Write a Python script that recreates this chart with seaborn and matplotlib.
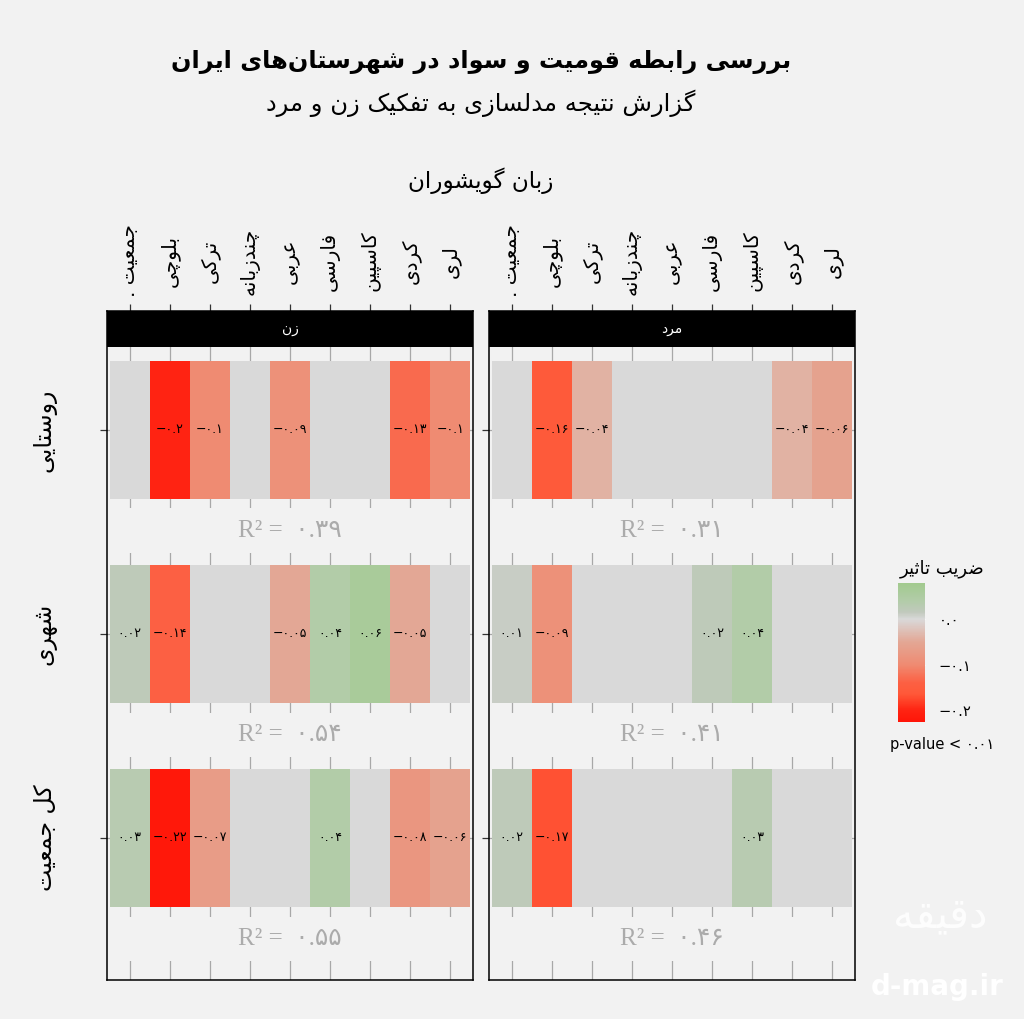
import numpy as np
import pandas as pd
import matplotlib
matplotlib.use('Agg')
import matplotlib.pyplot as plt
import seaborn as sns
from matplotlib.colors import LinearSegmentedColormap, Normalize
from matplotlib.cm import ScalarMappable

# داده‌ها (خوانده شده از تصویر) - None یعنی ضریب غیرمعنادار
languages = ['جمعیت .', 'بلوچی', 'ترکی', 'چندزبانه', 'عربی', 'فارسی', 'کاسپین', 'کردی', 'لری']
areas = ['روستایی', 'شهری', 'کل جمعیت']
genders = ['زن', 'مرد']

women_rural = [None, -0.2, -0.1, None, -0.09, None, None, -0.13, -0.1]
women_urban = [0.02, -0.14, None, None, -0.05, 0.04, 0.06, -0.05, None]
women_total = [0.03, -0.22, -0.07, None, None, 0.04, None, -0.08, -0.06]
men_rural = [None, -0.16, -0.04, None, None, None, None, -0.04, -0.06]
men_urban = [0.01, -0.09, None, None, None, 0.02, 0.04, None, None]
men_total = [0.02, -0.17, None, None, None, None, 0.03, None, None]

r2_women = [0.39, 0.54, 0.55]
r2_men = [0.31, 0.41, 0.46]

legend_ticks = [0.0, -0.1, -0.2]
coef_limits = (-0.226, 0.079)

# --- شکل‌دهی حروف فارسی (matplotlib خودش حروف را به هم وصل نمی‌کند)
JOIN4 = {'ب': 0xFE8F, 'ت': 0xFE95, 'ث': 0xFE99, 'ج': 0xFE9D, 'ح': 0xFEA1, 'خ': 0xFEA5,
         'س': 0xFEB1, 'ش': 0xFEB5, 'ص': 0xFEB9, 'ض': 0xFEBD, 'ط': 0xFEC1, 'ظ': 0xFEC5,
         'ع': 0xFEC9, 'غ': 0xFECD, 'ف': 0xFED1, 'ق': 0xFED5, 'ل': 0xFEDD, 'م': 0xFEE1,
         'ن': 0xFEE5, 'ه': 0xFEE9, 'ئ': 0xFE89, 'پ': 0xFB56, 'چ': 0xFB7A, 'ک': 0xFB8E,
         'گ': 0xFB92, 'ی': 0xFBFC}
JOIN2 = {'ا': 0xFE8D, 'آ': 0xFE81, 'د': 0xFEA9, 'ذ': 0xFEAB, 'ر': 0xFEAD, 'ز': 0xFEAF,
         'ژ': 0xFB8A, 'و': 0xFEED}


def fa(s):
    out = []
    for i, ch in enumerate(s):
        prev = s[i - 1] if i > 0 else ''
        nxt = s[i + 1] if i + 1 < len(s) else ''
        if ch in JOIN4 or ch in JOIN2:
            base = JOIN4.get(ch, JOIN2.get(ch))
            p = prev in JOIN4
            n = ch in JOIN4 and (nxt in JOIN4 or nxt in JOIN2)
            out.append(chr(base + (2 if n else 0) + (1 if p else 0)))
        elif ch == '\u200c':
            continue
        else:
            out.append(ch)
    return ''.join(reversed(out))


def fa_num(v, fmt='{:g}'):
    return fmt.format(v).translate(str.maketrans('0123456789-', '۰۱۲۳۴۵۶۷۸۹−'))


df = pd.DataFrame({
    'gender': np.repeat(genders, len(areas) * len(languages)),
    'area': np.tile(np.repeat(areas, len(languages)), len(genders)),
    'language': np.tile(languages, len(areas) * len(genders)),
    'coef': women_rural + women_urban + women_total + men_rural + men_urban + men_total,
})

bg = '#F2F2F2'
grey_tile = '#D9D9D9'
sns.set_theme(style='white', rc={'figure.facecolor': bg, 'axes.facecolor': bg,
                                 'text.color': 'black', 'xtick.color': 'black',
                                 'ytick.color': 'black'})
plt.rcParams['font.family'] = ['DejaVu Sans']

lo, hi = coef_limits
nodes = [(-0.226, '#FF1508'), (-0.2, '#FF2412'), (-0.165, '#FF5838'), (-0.14, '#FC6043'),
         (-0.1, '#EF8B72'), (-0.05, '#E3A795'), (0.0, '#D9D9D9'), (0.015, '#C1C9BD'),
         (0.04, '#B2CCA9'), (0.079, '#A2CA8E')]
cmap = LinearSegmentedColormap.from_list('coef', [((v - lo) / (hi - lo), c) for v, c in nodes])
norm = Normalize(lo, hi)

fig = plt.figure(figsize=(10.24, 10.19), dpi=100)
W, H = 1024, 1019
ypos = {a: 3 - i for i, a in enumerate(areas)}
xpos = np.arange(1, len(languages) + 1)
tile_h = 0.676
r2_off = 0.495

panels = {'زن': (107, r2_women), 'مرد': (489, r2_men)}
for g, (left_px, r2s) in panels.items():
    ax = fig.add_axes([left_px / W, 1 - 980 / H, 366 / W, 669 / H])
    ax.set_xlim(0.4375, 9.5625)
    ax.set_ylim(0.304, 3.583)
    sub = df[df.gender == g]
    for a in areas:
        d = sub[sub.area == a]
        vals = d.coef.to_numpy(dtype=float)
        colors = [grey_tile if np.isnan(v) else cmap(norm(v)) for v in vals]
        ax.bar(xpos, tile_h, bottom=ypos[a] - tile_h / 2, width=1, color=colors,
               linewidth=0, zorder=1)
        for x, v in zip(xpos, vals):
            if not np.isnan(v):
                ax.text(x, ypos[a], fa_num(v), ha='center', va='center', fontsize=9,
                        color='black', zorder=3)
    for a, r2 in zip(areas, r2s):
        y = ypos[a] - r2_off
        ax.axhspan(y - 0.11, y + 0.11, color=bg, zorder=0.8, linewidth=0)
        ax.text(5, y, 'R² =  ' + fa_num(r2, '{:.2f}'), ha='center', va='center',
                fontsize=18, color='#ABABAB', family=['Liberation Serif', 'DejaVu Sans'],
                zorder=3)
    # نوار عنوان پنل
    ax.axhspan(3.407, 3.583, color='black', zorder=2, linewidth=0)
    ax.text(5, 3.495, fa(g), ha='center', va='center', fontsize=10, color='white', zorder=3)

    ax.grid(True, color='#A8A8A8', linewidth=0.9)
    ax.set_axisbelow(True)
    for sp in ax.spines.values():
        sp.set_visible(True)
        sp.set_color('black')
        sp.set_linewidth(1.1)
    ax.set_xticks(xpos, [fa(l) for l in languages])
    ax.xaxis.set_ticks_position('top')
    ax.tick_params(axis='x', top=True, bottom=False, labeltop=True, labelbottom=False,
                   length=5, width=0.9, color='#333333', pad=31, labelsize=14.5,
                   labelcolor='black')
    for t in ax.xaxis.get_major_ticks():
        t.label2.set_rotation(90)
        t.label2.set_va('center')
        t.label2.set_ha('center')
    ax.set_yticks([ypos[a] for a in areas], [fa(a) for a in areas])
    ax.tick_params(axis='y', left=True, length=5, width=0.9, color='#333333', pad=40,
                   labelsize=17, labelleft=(g == 'زن'), labelcolor='black')
    for t in ax.yaxis.get_major_ticks():
        t.label1.set_rotation(90)
        t.label1.set_ha('center')
        t.label1.set_va('center')

# عنوان‌ها
fig.text(481 / W, 1 - 62 / H, fa('بررسی رابطه قومیت و سواد در شهرستان\u200cهای ایران'),
         ha='center', va='center', fontsize=17.3, fontweight='bold', color='black')
fig.text(481 / W, 1 - 103 / H, fa('گزارش نتیجه مدلسازی به تفکیک زن و مرد'),
         ha='center', va='center', fontsize=17.5, color='black')
fig.text(481 / W, 1 - 181 / H, fa('زبان گویشوران'), ha='center', va='center', fontsize=16.7,
         color='black')

# راهنمای رنگ
cax = fig.add_axes([898 / W, 1 - 722 / H, 27 / W, 139 / H])
cb = fig.colorbar(ScalarMappable(norm=norm, cmap=cmap), cax=cax)
cb.outline.set_visible(False)
cb.set_ticks(legend_ticks, labels=[fa_num(t, '{:.1f}') for t in legend_ticks])
cax.tick_params(length=5, color='white', width=0.8, direction='in', labelsize=10.5, pad=10,
                labelcolor='black')
fig.text(942 / W, 1 - 569 / H, fa('ضریب تاثیر'), ha='center', va='center', fontsize=13)
fig.text(942 / W, 1 - 744 / H, 'p-value < ' + fa_num(0.01), ha='center', va='center',
         fontsize=10.5)

# واترمارک
fig.text(940 / W, 1 - 915 / H, fa('دقیقه'), ha='center', va='center', fontsize=30,
         color='white', alpha=0.85)
fig.text(937 / W, 1 - 987 / H, 'd-mag.ir', ha='center', va='center', fontsize=20,
         color='white', fontweight='bold')

fig.savefig('out.png', dpi=100, facecolor=bg)
